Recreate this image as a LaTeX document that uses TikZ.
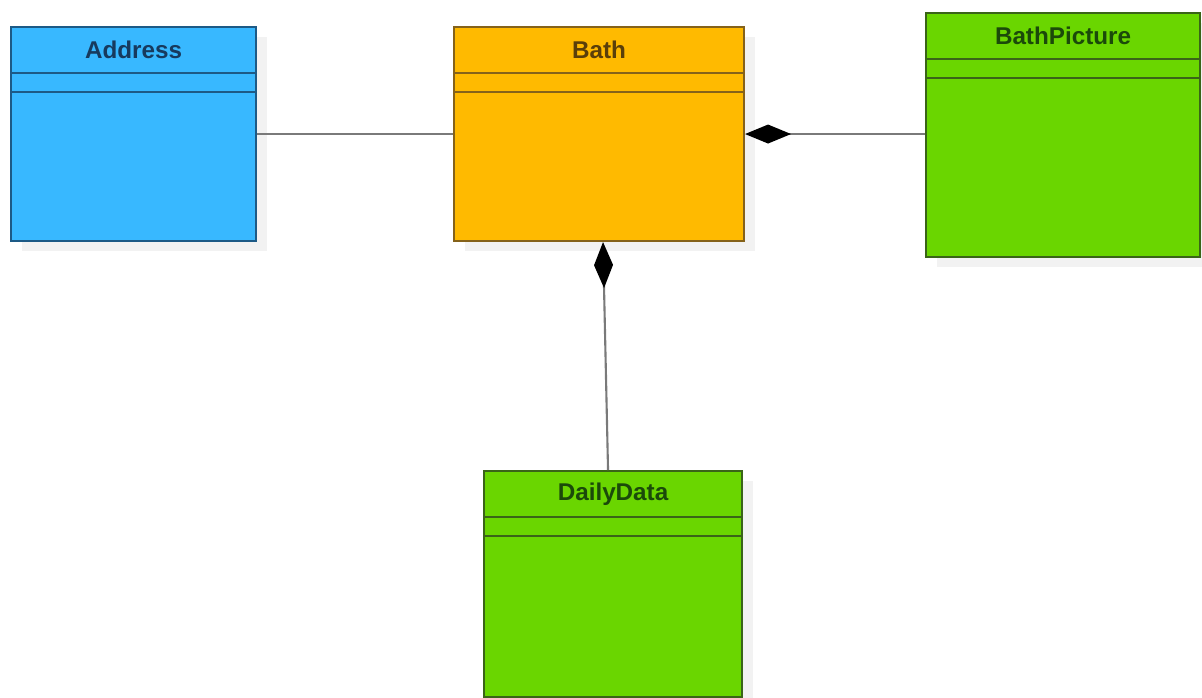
\documentclass[tikz,border=0pt]{standalone}
\usepackage{fontspec}
\setmainfont{Liberation Sans}
\usetikzlibrary{arrows.meta,shadows}

\definecolor{blueFill}{HTML}{38B8FF}
\definecolor{blueLine}{HTML}{1D5A86}
\definecolor{blueText}{HTML}{173A5E}
\definecolor{orangeFill}{HTML}{FFBA00}
\definecolor{orangeLine}{HTML}{85621A}
\definecolor{orangeText}{HTML}{5A3F0A}
\definecolor{greenFill}{HTML}{6AD600}
\definecolor{greenLine}{HTML}{3A6418}
\definecolor{greenText}{HTML}{1B4A0A}
\definecolor{connGray}{HTML}{7A7A7A}

\tikzset{
	umlclass/.style={rectangle, line width=1.2pt, inner sep=0pt, anchor=north west,
		drop shadow={shadow xshift=0.22cm, shadow yshift=-0.2cm, fill=black!5, opacity=1}},
	blueclass/.style={umlclass, fill=blueFill, draw=blueLine},
	orangeclass/.style={umlclass, fill=orangeFill, draw=orangeLine},
	greenclass/.style={umlclass, fill=greenFill, draw=greenLine},
	classtitle/.style={font=\bfseries\fontsize{13.8}{16}\selectfont, inner sep=0pt},
	assoc/.style={draw=connGray, line width=1.2pt},
	compose/.style={assoc, -{Diamond[length=0.92cm, width=0.38cm, color=black, fill=black]}}
}

\begin{document}
\begin{tikzpicture}[x=0.02cm,y=-0.02cm]
	\useasboundingbox (0,0) rectangle (1202,697);
	
	\foreach \n/\t/\s/\c/\x/\y/\w/\h in {
		address/Address/blueclass/blue/10/26/4.9/4.28,
		bath/Bath/orangeclass/orange/453/26/5.8/4.28,
		picture/BathPicture/greenclass/green/925/12/5.48/4.88,
		daily/DailyData/greenclass/green/483/470/5.16/4.52}
	{
		\node[\s, minimum width=\w cm, minimum height=\h cm] (\n) at (\x,\y) {};
		\node[classtitle, text=\c Text] (\n-title) at ([yshift=-0.48cm]\n.north) {\t};
		\draw[line width=1.2pt, draw=\c Line] ([yshift=-0.94cm]\n.north west) -- ([yshift=-0.94cm]\n.north east);
		\draw[line width=1.2pt, draw=\c Line] ([yshift=-1.32cm]\n.north west) -- ([yshift=-1.32cm]\n.north east);
	}
	
	\draw[assoc] (address.east) -- (bath.west);
	\draw[compose] (picture.west |- bath.east) -- (bath.east);
	\draw[compose] ([xshift=-0.1cm]daily.north) -- ([xshift=0.08cm]bath.south);
\end{tikzpicture}
\end{document}
